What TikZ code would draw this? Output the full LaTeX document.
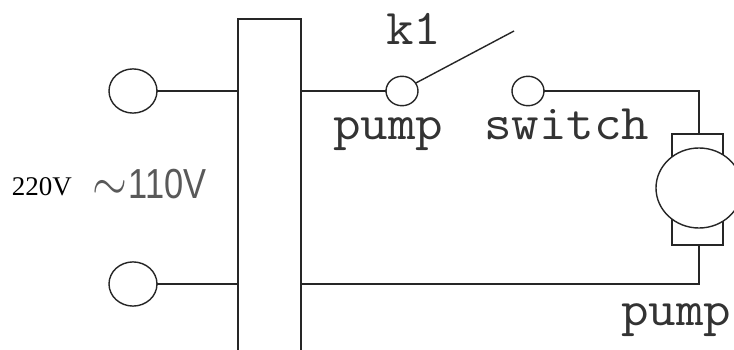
\documentclass[tikz,border=0pt]{standalone}
\usepackage{fontspec}
\usepackage{tikz}
\usetikzlibrary{shapes,positioning}
\newfontfamily\serifface{Liberation Serif}
\newfontfamily\sansface{Liberation Sans}
\definecolor{wirecolor}{gray}{0.15}
\tikzset{
  every node/.style={
    inner sep=0pt,
    outer sep=0pt
  },
  wire/.style={
    draw=wirecolor,
    line width=1.4pt
  },
  terminal/.style={
    shape=ellipse,
    wire,
    minimum width=#1,
    minimum height=0.92*#1
  },
  transformer/.style={
    shape=rectangle,
    wire,
    minimum width=63pt,
    minimum height=371pt
  },
  brushes/.style={
    shape=rectangle,
    wire,
    minimum width=51pt,
    minimum height=111pt
  },
  armature/.style={
    shape=ellipse,
    wire,
    fill=white,
    minimum width=86pt,
    minimum height=80pt
  },
  monolabel/.style={
    font=\ttfamily\fontsize{50}{50}\selectfont,
    xscale=1.07,
    text=black!80,
    anchor=base west
  }
}

\begin{document}
\begin{tikzpicture}[x=1pt,y=-1pt]
    \clip (0,0) rectangle (734,350);
    \fill[white] (0,0) rectangle (734,350);
    % input side
    \node [transformer] (block) at (269.5,204.5) {};
    \node [terminal=48pt] (inA) at (133,91) {};
    \node [terminal=48pt] (inB) at (133,284) {};
    \draw [wire] (inA.east) -- (inA.east -| block.west);
    \draw [wire] (inB.east) -- (inB.east -| block.west);
    % switch
    \node [terminal=32pt] (contactA) at (402,91) {};
    \node [terminal=32pt] (contactB) at (528,91) {};
    \coordinate (armEnd) at (514,31);
    \draw [wire] (block.east |- contactA.west) -- (contactA.west);
    \draw [wire] (contactA.30) -- (armEnd);
    % motor
    \node [brushes] (motorBox) at (697.5,189.5) {};
    \node [armature] (motor) at (699,188) {};
    \coordinate (topLead) at (motor.center |- motorBox.north);
    \coordinate (botLead) at (motor.center |- motorBox.south);
    \draw [wire] (contactB.east) -| (topLead);
    \draw [wire] (botLead) |- (block.east |- inB.east);
    % labels
    \node [monolabel] (labelK) at (386,45) {k1};
    \node [monolabel] (labelPump) at (333,140) {pump};
    \node [monolabel] (labelSwitch) at (484,140) {switch};
    \node [monolabel] (labelMotor) at (621,325) {pump};
    \node [anchor=base west, font=\serifface\fontsize{27}{27}\selectfont] (labelHigh) at (12,196) {220V};
    \node [anchor=base west, xscale=0.82, text=black!65, font=\sansface\fontsize{42}{42}\selectfont] (labelLow) at (92,198) {\raisebox{-2pt}{\scalebox{2.2}{$\sim$}}\hspace{2pt}110V};
\end{tikzpicture}
\end{document}
